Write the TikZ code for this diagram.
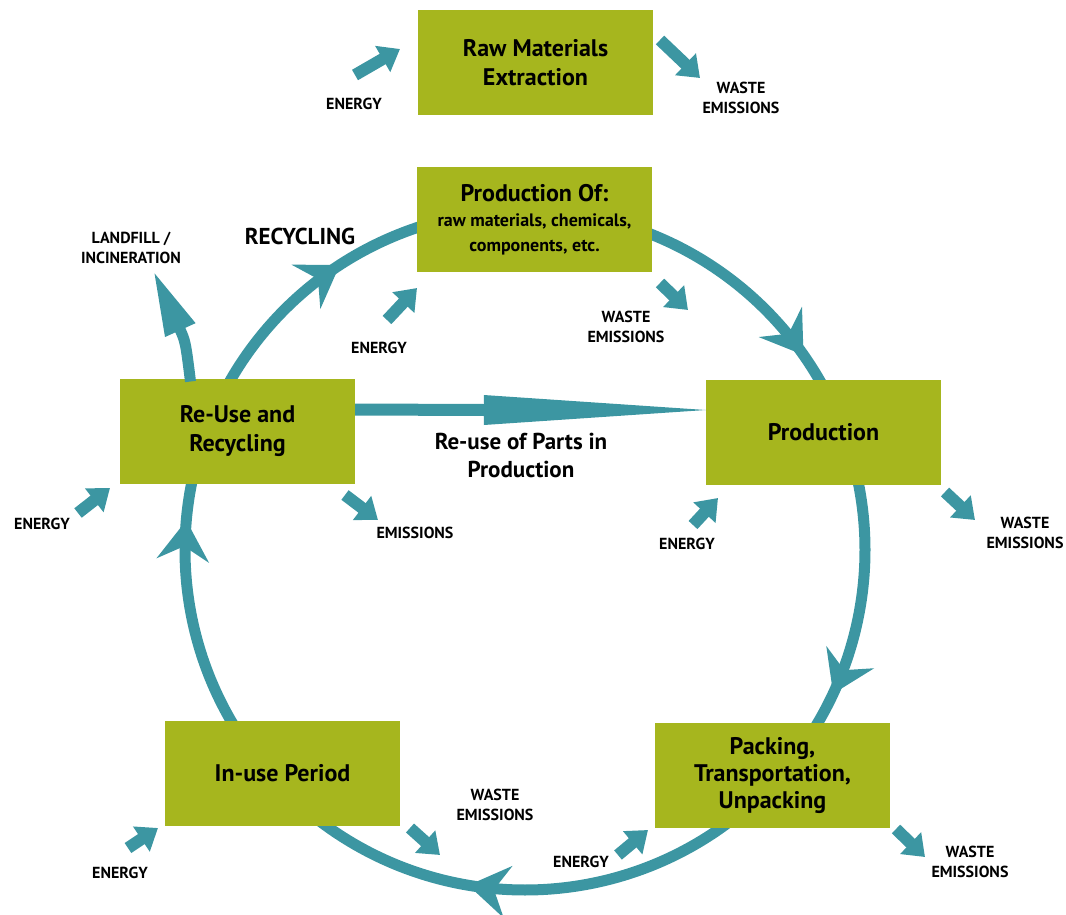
\documentclass[tikz,border=0pt]{standalone}
\usepackage{fontspec}
\setmainfont{PT Sans}
\usetikzlibrary{arrows.meta,decorations.markings}

\definecolor{boxgreen}{RGB}{166,182,30}
\definecolor{cycleteal}{RGB}{60,150,162}

\begin{document}
\begin{tikzpicture}[
    x=1pt, y=-1pt,
    stage/.style={rectangle, fill=boxgreen, minimum width=235pt, minimum height=105pt, align=center, font=\bfseries\fontsize{24}{29}\selectfont},
    lbl/.style={align=center, font=\bfseries\fontsize{16}{20}\selectfont},
    big/.style={align=center, font=\bfseries\fontsize{23}{28}\selectfont},
    ring/.style={draw=cycleteal, line width=11pt},
    midtip/.style={postaction={decorate}, decoration={markings, mark=at position #1 with {\arrow{Stealth[length=40pt,width=52pt,inset=14pt]}}}},
    flow/.style={draw=cycleteal, line width=12pt, -{Triangle[length=20pt,width=29pt]}}
]
\useasboundingbox (0,0) rectangle (1066,914);
\coordinate (ctr) at (525,550);

% Life cycle ring
\draw[ring, midtip=0.64] ([shift={(205:340)}]ctr) arc[start angle=205, end angle=255, radius=340];
\draw[ring, midtip=0.8] ([shift={(285:340)}]ctr) arc[start angle=285, end angle=335, radius=340];
\draw[ring, midtip=0.8] ([shift={(345:340)}]ctr) arc[start angle=345, end angle=395, radius=340];
\draw[ring, midtip=0.62] ([shift={(50:340)}]ctr) arc[start angle=50, end angle=130, radius=340];
\draw[ring, midtip=0.8] ([shift={(145:340)}]ctr) arc[start angle=145, end angle=195, radius=340];

% Stages
\node[stage] (raw) at (535.5,62.5) {Raw Materials\\Extraction};
\node[stage] (prodof) at (534.5,219.5) {Production Of:\\[-4pt]{\fontsize{18}{22}\selectfont raw materials, chemicals,}\\[-4pt]{\fontsize{18}{22}\selectfont components, etc.}};
\node[stage] (prod) at (823.5,432) {Production};
\node[stage] (reuse) at (237.5,431.5) {Re-Use and\\Recycling};
\node[stage] (inuse) at (282.5,773) {In-use Period};
\node[stage, font=\bfseries\fontsize{24}{27}\selectfont] (pack) at (772.5,775) {Packing,\\Transportation,\\Unpacking};

% Landfill and re-use of parts
\draw[ring, -{Triangle[length=66pt,width=30pt]}] ([shift={(-47,-50)}]reuse.center) .. controls ([shift={(-52,-90)}]reuse.center) .. ([shift={(-84.5,-161.5)}]reuse.center);
\coordinate (partstip) at ([shift={(0,-22)}]prod.west);
\coordinate (partsbase) at ([shift={(-222,0)}]partstip);
\draw[draw=cycleteal, line width=12pt] ([shift={(0,-22)}]reuse.east) -- ([shift={(2,0)}]partsbase);
\fill[cycleteal] ([shift={(0,-15)}]partsbase) -- (partstip) -- ([shift={(0,15)}]partsbase) -- cycle;
\node[big] (parts) at (521,455) {Re-use of Parts in\\Production};
\node[font=\bfseries\fontsize{23}{28}\selectfont] (recyc) at (300,236) {RECYCLING};
\node[lbl] (landfill) at (131,248) {LANDFILL /\\INCINERATION};

% Inputs and outputs
\node[lbl] (en1) at (354,104) {ENERGY};
\node[lbl] (we1) at (741,98) {WASTE\\EMISSIONS};
\node[lbl] (en2) at (379,348) {ENERGY};
\node[lbl] (we2) at (626,327) {WASTE\\EMISSIONS};
\node[lbl] (we3) at (1025,533) {WASTE\\EMISSIONS};
\node[lbl] (en3) at (687,544) {ENERGY};
\node[lbl] (em1) at (415,533) {EMISSIONS};
\node[lbl] (en4) at (42,524) {ENERGY};
\node[lbl] (en5) at (120,873) {ENERGY};
\node[lbl] (we4) at (495,805) {WASTE\\EMISSIONS};
\node[lbl] (en6) at (581,862) {ENERGY};
\node[lbl] (we5) at (970,862) {WASTE\\EMISSIONS};

\draw[flow] ([shift={(1,-29)}]en1.center) -- ([shift={(46,-55)}]en1.center);
\draw[flow] ([shift={(-81,-58)}]we1.center) -- ([shift={(-41,-20)}]we1.center);
\draw[flow] ([shift={(8,-28)}]en2.center) -- ([shift={(38,-60)}]en2.center);
\draw[flow] ([shift={(34,-44)}]we2.center) -- ([shift={(62,-17)}]we2.center);
\draw[flow] ([shift={(-80,-41)}]we3.center) -- ([shift={(-50,-13)}]we3.center);
\draw[flow] ([shift={(6,-19)}]en3.center) -- ([shift={(31,-46)}]en3.center);
\draw[flow] ([shift={(-70,-38)}]em1.center) -- ([shift={(-37,-13)}]em1.center);
\draw[flow] ([shift={(36,-11)}]en4.center) -- ([shift={(68,-36)}]en4.center);
\draw[flow] ([shift={(8,-25)}]en5.center) -- ([shift={(38,-45)}]en5.center);
\draw[flow] ([shift={(-85,23)}]we4.center) -- ([shift={(-55,50)}]we4.center);
\draw[flow] ([shift={(37,-7)}]en6.center) -- ([shift={(67,-32)}]en6.center);
\draw[flow] ([shift={(-74,-33)}]we5.center) -- ([shift={(-45,-5)}]we5.center);

\end{tikzpicture}
\end{document}
